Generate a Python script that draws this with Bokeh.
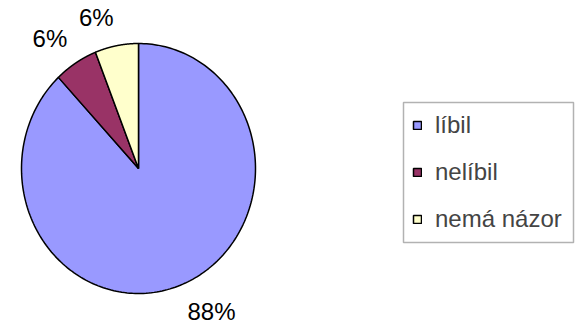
import numpy as np
from bokeh.plotting import figure
from bokeh.models import Range1d, Legend, LegendItem, ColumnDataSource, BoxAnnotation
from bokeh.core.properties import value
from bokeh.embed import file_html
from bokeh.resources import INLINE

categories = ["líbil", "nelíbil", "nemá názor"]
shares = [88, 6, 6]
pct_labels = ["88%", "6%", "6%"]
colors = ["#9999FF", "#993366", "#FFFFCC"]

W, H = 583, 328
p = figure(width=W, height=H, output_backend="svg", toolbar_location=None,
           x_range=Range1d(0, W), y_range=Range1d(0, H), min_border=0)
p.axis.visible = False
p.grid.visible = False
p.outline_line_color = None
p.background_fill_color = "white"
p.border_fill_color = "white"

cx, cy = 138, 160
rx, ry = 117, 125
lrx, lry = 133, 154

frac = np.array(shares, dtype=float) / sum(shares)
ends = 90 - 360 * np.cumsum(frac)
starts = ends + 360 * frac

items = []
for cat, s, e, c in zip(categories, starts, ends, colors):
    t = np.radians(np.linspace(s, e, 240))
    xs = [cx] + list(cx + rx * np.cos(t))
    ys = [cy] + list(cy + ry * np.sin(t))
    r = p.patch(xs, ys, fill_color=c, line_color="black", line_width=1.5)
    items.append(LegendItem(label=cat, renderers=[r]))

mids = np.radians((starts + ends) / 2)
aligns = ["left" if np.cos(m) >= 0 else "right" for m in mids]
lsrc = ColumnDataSource(dict(x=cx + lrx * np.cos(mids), y=cy + lry * np.sin(mids),
                             t=pct_labels, a=aligns))
p.text(x="x", y="y", text="t", source=lsrc, text_align="a", text_baseline="middle",
       text_font=value("Liberation Sans"), text_font_size="24px", text_color="black")

# legend frame
frame = BoxAnnotation(left=403, right=573, bottom=86, top=226,
                      fill_color="white", fill_alpha=1,
                      line_color="black", line_width=1.5)
p.add_layout(frame)

legend = Legend(items=items, location=(412, 95), orientation="vertical",
                label_text_font="Liberation Sans", label_text_font_size="24px",
                glyph_width=10, glyph_height=10, label_standoff=13, label_height=24,
                padding=0, spacing=19, margin=0,
                border_line_color=None, background_fill_alpha=0)
p.add_layout(legend)

open("out.html", "w").write(file_html(p, INLINE))
